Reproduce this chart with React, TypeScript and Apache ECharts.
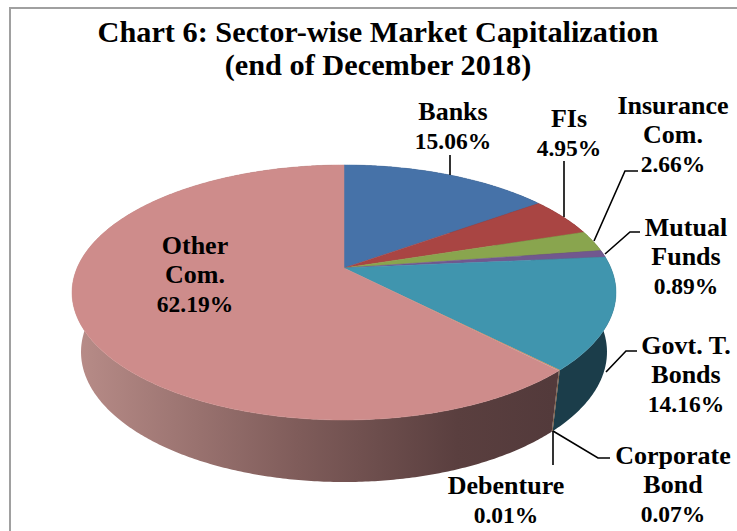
import React, { useEffect, useRef } from "react";
import * as echarts from "echarts";

const categories = ["Banks", "FIs", "Insurance Com.", "Mutual Funds", "Govt. T. Bonds", "Corporate Bond", "Debenture", "Other Com."];
const shares = [15.06, 4.95, 2.66, 0.89, 14.16, 0.07, 0.01, 62.19];
const labelLines = [
  ["Banks", "15.06%"],
  ["FIs", "4.95%"],
  ["Insurance", "Com.", "2.66%"],
  ["Mutual", "Funds", "0.89%"],
  ["Govt. T.", "Bonds", "14.16%"],
  ["Corporate", "Bond", "0.07%"],
  ["Debenture", "0.01%"],
  ["Other", "Com.", "62.19%"],
];
const topColors = ["#4672A8", "#A94543", "#89A54E", "#71588F", "#4095AE", "#DB843D", "#93A9CF", "#CE8C8B"];
const sideDark = ["#22364f", "#522120", "#435226", "#372a46", "#1B3D4A", "#6b401d", "#475266", "#533A3B"];
const labelCenters = [[453, 111], [569, 118], [673, 105], [686, 227], [686, 345], [673, 455], [506, 485], [195, 245]];
const leaders: number[][][] = [
  [[450, 155], [450, 175]],
  [[564, 161], [564, 217]],
  [[638, 171], [625, 171], [594, 241]],
  [[640, 232], [630, 232], [605, 254]],
  [[637, 351], [626, 351], [606, 372]],
  [[610, 458], [598, 458], [553, 431]],
  [[553, 431], [553, 465]],
];

const FONT = "'Liberation Serif', serif";
const CX = 344, CY = 268, A = 266.9, B = 122.8, K = 0.192;
const SX = 0.967, SY = 1.02, DROP = 59;

const total = shares.reduce((a, b) => a + b, 0);
const pt = (t: number, bottom: boolean): number[] => {
  const x = Math.sin(t), y = -Math.cos(t), w = 1 - K * y;
  return bottom
    ? [CX + SX * A * x / w, CY + DROP + SY * B * y / w]
    : [CX + A * x / w, CY + B * y / w];
};
const arc = (t0: number, t1: number, bottom: boolean) => {
  const n = Math.max(2, Math.ceil((t1 - t0) / 0.01));
  const out: number[][] = [];
  for (let i = 0; i <= n; i++) out.push(pt(t0 + (t1 - t0) * i / n, bottom));
  return out;
};

export default function App() {
  const ref = useRef<HTMLDivElement>(null);
  useEffect(() => {
    const chart = echarts.init(ref.current!, undefined, { renderer: "svg" });
    let acc = 0;
    const ranges = shares.map((v) => {
      const s = acc;
      acc += v;
      return [s / total * Math.PI * 2, acc / total * Math.PI * 2];
    });
    const sideItem = (_: any, api: any) => {
      const i = api.value(0) as number;
      const [t0, t1] = ranges[i];
      const stops = i === 7
        ? [{ offset: 0, color: "#B98D89" }, { offset: 0.47, color: "#7F5C5A" }, { offset: 0.8, color: "#5A3F3F" }, { offset: 1, color: sideDark[i] }]
        : [{ offset: 0, color: sideDark[i] }, { offset: 1, color: sideDark[i] }];
      return {
        type: "polygon",
        shape: { points: [...arc(t0, t1, false), ...arc(t0, t1, true).reverse()] },
        style: { fill: new echarts.graphic.LinearGradient(72, 0, 553, 0, stops, true) },
      };
    };
    const topItem = (_: any, api: any) => {
      const i = api.value(0) as number;
      const [t0, t1] = ranges[i];
      return {
        type: "polygon",
        shape: { points: [[CX, CY], ...arc(t0, t1, false)] },
        style: { fill: topColors[i], stroke: shares[i] < 0.5 ? undefined : topColors[i], lineWidth: 0.5 },
      };
    };
    const lineItem = (_: any, api: any) => ({
      type: "polyline",
      shape: { points: leaders[api.value(0) as number] },
      style: { stroke: "#000", lineWidth: 1.6, fill: "none" },
    });
    const labelItem = (_: any, api: any) => {
      const i = api.value(0) as number;
      const [x, y] = labelCenters[i];
      return {
        type: "group",
        children: labelLines[i].map((t, j) => ({
          type: "text",
          style: {
            text: t, x, y: y + j * 29.5, align: "center", verticalAlign: "middle",
            font: `bold ${t.endsWith("%") ? 23.5 : 26}px ${FONT}`, fill: "#000",
          },
        })),
      };
    };
    const idx = categories.map((_, i) => [i]);
    const base = { type: "custom", coordinateSystem: "none", silent: true, animation: false };
    chart.setOption({
      animation: false,
      title: {
        text: "Chart 6: Sector-wise Market Capitalization\n(end of December 2018)",
        left: 373, top: 10, textAlign: "center",
        textStyle: { fontFamily: FONT, fontWeight: "bold", fontSize: 30.3, lineHeight: 33, color: "#000" },
      },
      graphic: [{
        type: "rect", z: -1,
        shape: { x: 10, y: 8, width: 760, height: 560 },
        style: { fill: "#fff", stroke: "#A0A0A0", lineWidth: 2 },
      }],
      series: [
        { ...base, name: "side", data: idx, renderItem: sideItem, z: 2 },
        { ...base, name: "top", data: idx, renderItem: topItem, z: 3 },
        { ...base, name: "leaders", data: leaders.map((_, i) => [i]), renderItem: lineItem, z: 4 },
        { ...base, name: "labels", data: idx, renderItem: labelItem, z: 5 },
      ],
    });
    return () => chart.dispose();
  }, []);
  return <div ref={ref} style={{ position: "absolute", left: 0, top: 0, width: 737, height: 531 }} />;
}
